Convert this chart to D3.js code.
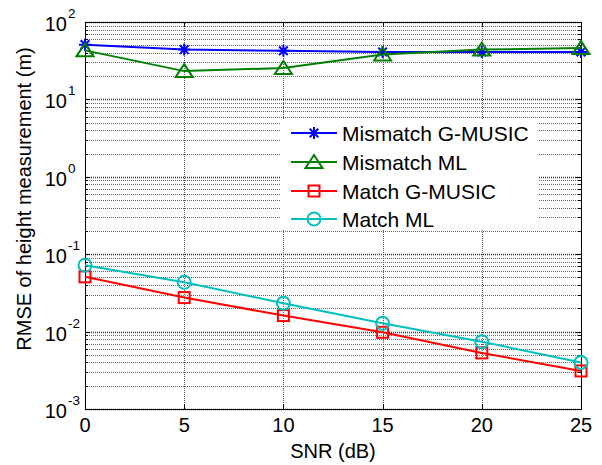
<!DOCTYPE html>
<html>
<head>
<meta charset="utf-8">
<script src="https://cdn.jsdelivr.net/npm/d3@7"></script>
<style>
  body { margin: 0; background: #fff; }
  text { font-family: "Liberation Sans", Arial, sans-serif; fill: #000; }
</style>
</head>
<body>
<div id="chart"></div>
<script>
// data
var snr = [0, 5, 10, 15, 20, 25];
var mismatchGMusic = [51, 44, 42.5, 41, 41, 41];
var mismatchML = [43, 23.2, 25.5, 38, 44, 46];
var matchGMusic = [0.051, 0.0275, 0.0161, 0.0098, 0.0053, 0.0031];
var matchML = [0.072, 0.0434, 0.0232, 0.0128, 0.0074, 0.0040];

var seriesNames = ["Mismatch G-MUSIC", "Mismatch ML", "Match G-MUSIC", "Match ML"];
var seriesColors = ["#0000ff", "#008000", "#ff0000", "#00bfbf"];
var seriesMarkers = ["star", "triangle", "square", "circle"];

var xTicks = [0, 5, 10, 15, 20, 25];
var yExponents = [-3, -2, -1, 0, 1, 2];

var W = 602, H = 465;
var pLeft = 85, pRight = 581, pTop = 22, pBottom = 409;

var x = d3.scaleLinear().domain([0, 25]).range([pLeft, pRight]);
var y = d3.scaleLog().domain([1e-3, 1e2]).range([pBottom, pTop]);

function isDecade(d) {
  return Math.abs(Math.log10(d) - Math.round(Math.log10(d))) < 1e-6;
}

var svg = d3.select("#chart")
  .append("svg")
    .attr("width", W)
    .attr("height", H);

// grid
var grid = svg.append("g");
var allY = y.ticks();
grid.selectAll("line.ym")
  .data(allY)
  .enter().append("line")
    .attr("x1", pLeft).attr("x2", pRight)
    .attr("y1", (d) => Math.round(y(d)) + 0.5)
    .attr("y2", (d) => Math.round(y(d)) + 0.5)
    .attr("stroke", (d) => isDecade(d) ? "#333" : "#666")
    .attr("stroke-width", (d) => isDecade(d) ? 1.4 : 1)
    .attr("stroke-dasharray", "1,1");
grid.selectAll("line.xg")
  .data(xTicks)
  .enter().append("line")
    .attr("x1", (d) => Math.round(x(d)) + 0.5)
    .attr("x2", (d) => Math.round(x(d)) + 0.5)
    .attr("y1", pTop).attr("y2", pBottom)
    .attr("stroke", "#555")
    .attr("stroke-dasharray", "1,1");

// ticks (inside, both sides)
var ticks = svg.append("g").attr("stroke", "#000").attr("stroke-width", 1);
allY.forEach((d) => {
  var len = isDecade(d) ? 5 : 3;
  var yy = Math.round(y(d)) + 0.5;
  ticks.append("line").attr("x1", pLeft).attr("x2", pLeft + len).attr("y1", yy).attr("y2", yy);
  ticks.append("line").attr("x1", pRight).attr("x2", pRight - len).attr("y1", yy).attr("y2", yy);
});
xTicks.forEach((d) => {
  var xx = Math.round(x(d)) + 0.5;
  ticks.append("line").attr("x1", xx).attr("x2", xx).attr("y1", pBottom).attr("y2", pBottom - 5);
  ticks.append("line").attr("x1", xx).attr("x2", xx).attr("y1", pTop).attr("y2", pTop + 5);
});

// box
svg.append("rect")
  .attr("x", pLeft + 0.5).attr("y", pTop + 0.5)
  .attr("width", pRight - pLeft).attr("height", pBottom - pTop)
  .attr("fill", "none").attr("stroke", "#000").attr("stroke-width", 1);

// tick labels
svg.selectAll("text.xt")
  .data(xTicks)
  .enter().append("text")
    .attr("x", (d) => x(d))
    .attr("y", 432)
    .attr("text-anchor", "middle")
    .attr("font-size", 20)
    .text((d) => d);

var yl = svg.selectAll("g.yt")
  .data(yExponents)
  .enter().append("g")
    .attr("transform", (d) => "translate(0," + y(Math.pow(10, d)) + ")");
yl.append("text")
  .attr("x", 67).attr("y", 9)
  .attr("text-anchor", "end")
  .attr("font-size", 20)
  .text("10");
yl.append("text")
  .attr("x", 68).attr("y", -4)
  .attr("font-size", 13.5)
  .text((d) => d);

// axis labels
svg.append("text")
  .attr("x", (pLeft + pRight) / 2)
  .attr("y", 458)
  .attr("text-anchor", "middle")
  .attr("font-size", 20)
  .text("SNR (dB)");
svg.append("text")
  .attr("transform", "translate(31,199) rotate(-90)")
  .attr("text-anchor", "middle")
  .attr("font-size", 20)
  .text("RMSE of height measurement (m)");

// markers
function drawMarker(sel, type, color) {
  if (type == "star") {
    var r = 6;
    var dd = r * 0.72;
    sel.append("path")
      .attr("d", "M" + (-r) + ",0L" + r + ",0M0," + (-r) + "L0," + r
        + "M" + (-dd) + "," + (-dd) + "L" + dd + "," + dd
        + "M" + (-dd) + "," + dd + "L" + dd + "," + (-dd))
      .attr("stroke", color).attr("stroke-width", 2).attr("fill", "none");
  } else if (type == "triangle") {
    sel.append("path")
      .attr("d", "M0,-7L8.5,6L-8.5,6Z")
      .attr("stroke", color).attr("stroke-width", 2).attr("fill", "none");
  } else if (type == "square") {
    sel.append("rect")
      .attr("x", -5.5).attr("y", -5.5).attr("width", 11).attr("height", 11)
      .attr("stroke", color).attr("stroke-width", 2).attr("fill", "none");
  } else {
    sel.append("circle")
      .attr("r", 6.5)
      .attr("stroke", color).attr("stroke-width", 2).attr("fill", "none");
  }
}

var allSeries = [mismatchGMusic, mismatchML, matchGMusic, matchML];
var line = d3.line()
  .x((d, i) => x(snr[i]))
  .y((d) => y(d));

allSeries.forEach((vals, k) => {
  var g = svg.append("g");
  g.append("path")
    .attr("d", line(vals))
    .attr("fill", "none")
    .attr("stroke", seriesColors[k])
    .attr("stroke-width", 2);
  vals.forEach((v, i) => {
    var m = g.append("g").attr("transform", "translate(" + x(snr[i]) + "," + y(v) + ")");
    drawMarker(m, seriesMarkers[k], seriesColors[k]);
  });
});

// legend
var lg = svg.append("g");
lg.append("rect")
  .attr("x", 281).attr("y", 120)
  .attr("width", 257).attr("height", 109)
  .attr("fill", "#fff");
var rowY = [133, 162, 191, 219];
seriesNames.forEach((name, k) => {
  var row = lg.append("g").attr("transform", "translate(0," + rowY[k] + ")");
  row.append("line")
    .attr("x1", 291).attr("x2", 337)
    .attr("stroke", seriesColors[k]).attr("stroke-width", 2);
  drawMarker(row.append("g").attr("transform", "translate(314,0)"), seriesMarkers[k], seriesColors[k]);
  row.append("text")
    .attr("x", 342).attr("y", 7.5)
    .attr("font-size", 21)
    .text(name);
});
</script>
</body>
</html>
